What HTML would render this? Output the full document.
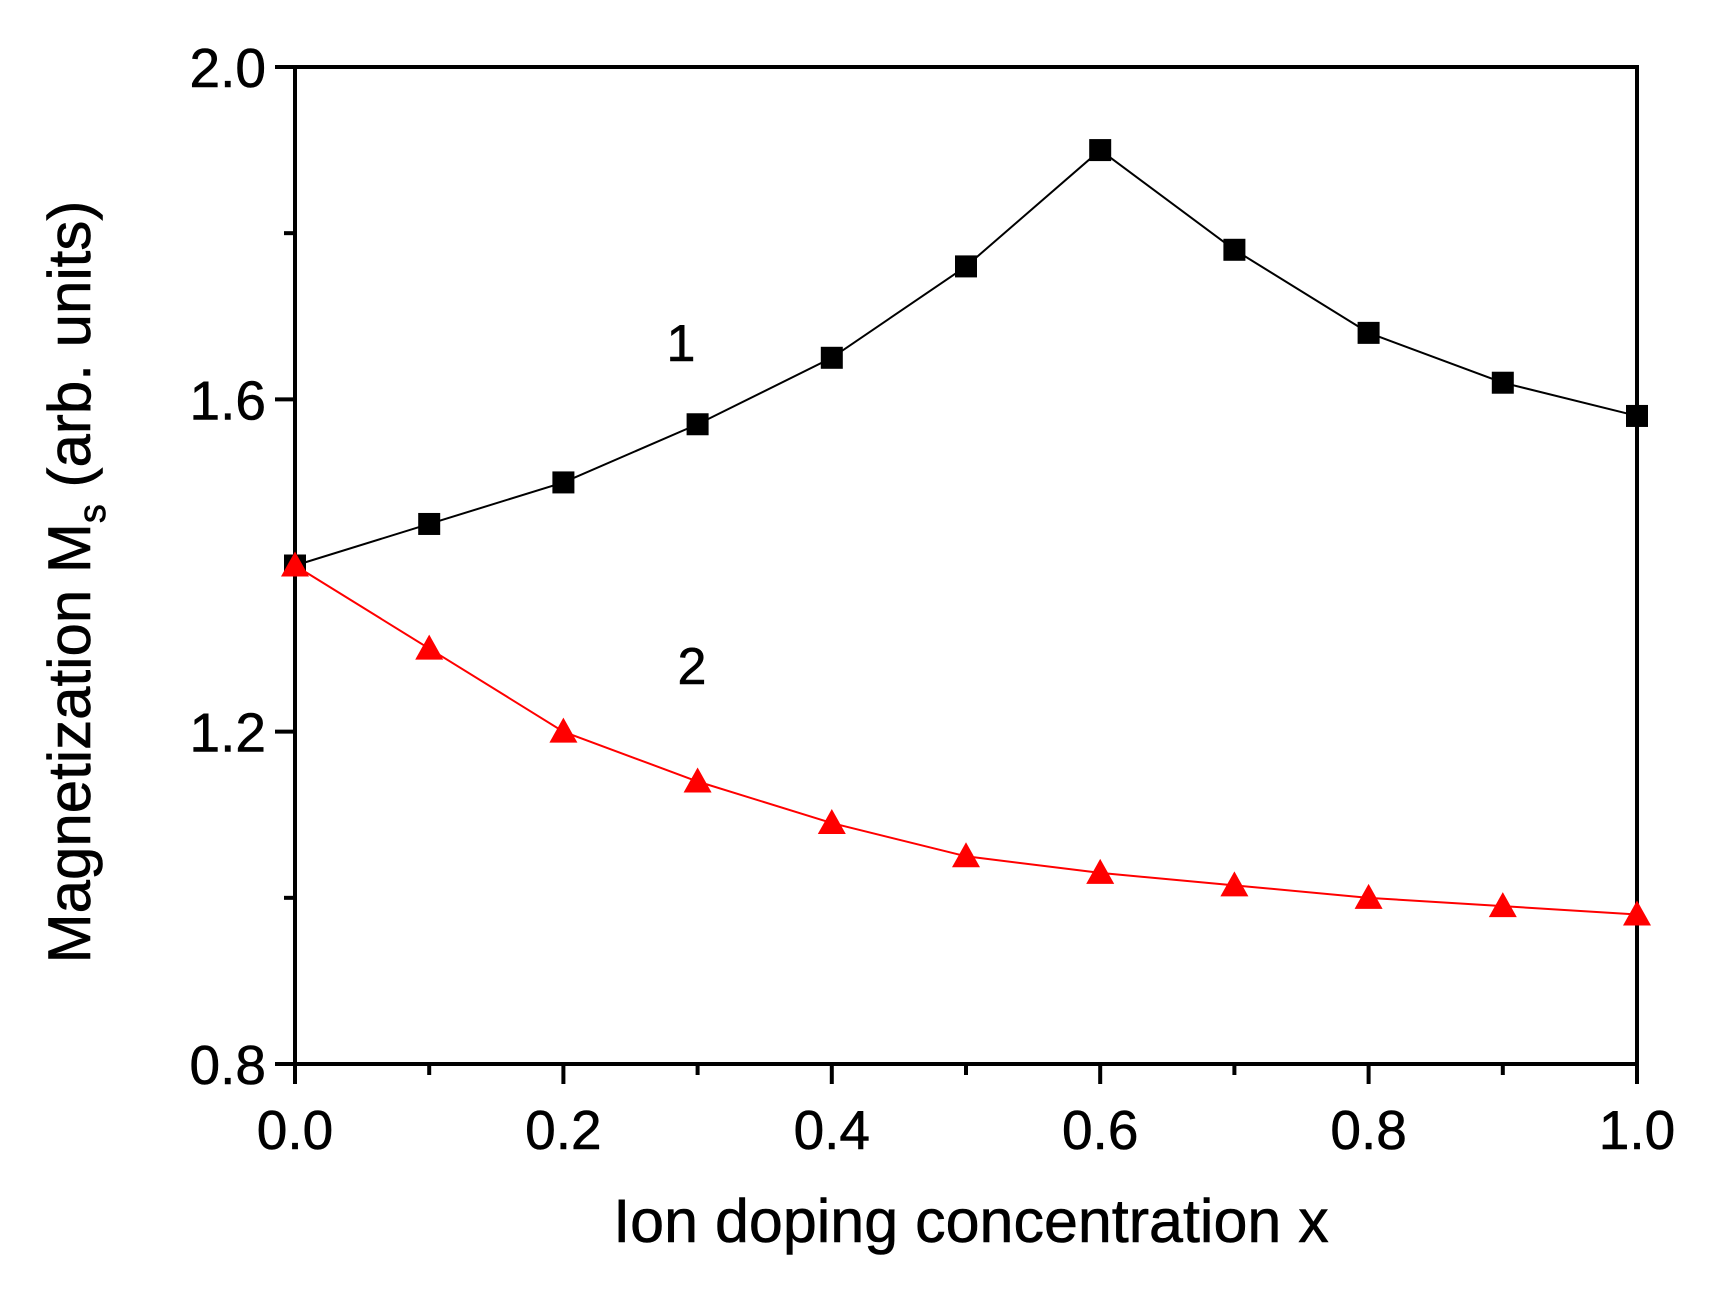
<!DOCTYPE html>
<html><head><meta charset="utf-8"><style>
html,body{margin:0;padding:0;background:#fff;}
svg{display:block;font-family:"Liberation Sans",Arial,sans-serif;}
text{stroke:#000;stroke-width:0.6;}
</style></head><body>
<svg id="chart" width="1722" height="1292" viewBox="0 0 1722 1292" xmlns="http://www.w3.org/2000/svg">
<g id="axes"></g>
<g id="series"></g>
<text x="681" y="361" font-size="52" text-anchor="middle">1</text>
<text x="692" y="684" font-size="52" text-anchor="middle">2</text>
<text x="971" y="1242" font-size="61" text-anchor="middle">Ion doping concentration x</text>
<text transform="translate(90,582) rotate(-90)" font-size="60" text-anchor="middle">Magnetization M<tspan font-size="38" dy="15">s</tspan><tspan dy="-15"> (arb. units)</tspan></text>
</svg>
<script>
const xValues = [0,0.1,0.2,0.3,0.4,0.5,0.6,0.7,0.8,0.9,1.0];
const series1 = [1.40,1.45,1.50,1.57,1.65,1.76,1.90,1.78,1.68,1.62,1.58];
const series2 = [1.40,1.30,1.20,1.14,1.09,1.05,1.03,1.015,1.00,0.99,0.98];
const xTicks = [0,0.2,0.4,0.6,0.8,1.0];
const xTickLabels = ["0.0","0.2","0.4","0.6","0.8","1.0"];
const yTicks = [0.8,1.2,1.6,2.0];
const yTickLabels = ["0.8","1.2","1.6","2.0"];
const xMinor = [0.1,0.3,0.5,0.7,0.9];
const yMinor = [1.0,1.4,1.8];

const X0=295,X1=1637,Y0=1064,Y1=67;
const xs=v=>X0+(v-0)/(1-0)*(X1-X0);
const ys=v=>Y0-(v-0.8)/(2.0-0.8)*(Y0-Y1);
const NS="http://www.w3.org/2000/svg";
function mk(tag,parent){const e=document.createElementNS(NS,tag);parent.appendChild(e);return e;}
const axes=document.getElementById('axes');
const frame=mk('rect',axes);


frame.setAttribute('x',X0);frame.setAttribute('y',Y1);frame.setAttribute('width',X1-X0);frame.setAttribute('height',Y0-Y1);
frame.setAttribute('fill','none');frame.setAttribute('stroke','#000');frame.setAttribute('stroke-width','4');
xTicks.forEach((v,i)=>{
  const t=mk('line',axes);
  
  
  t.setAttribute('x1',xs(v));t.setAttribute('x2',xs(v));t.setAttribute('y1',Y0);t.setAttribute('y2',Y0+20);
  t.setAttribute('stroke','#000');t.setAttribute('stroke-width','4');
  const l=mk('text',axes);
  
  
  l.setAttribute('x',xs(v));l.setAttribute('y',1149);l.setAttribute('font-size','55');l.setAttribute('text-anchor','middle');
  l.textContent=xTickLabels[i];
});
xMinor.forEach(v=>{
  const t=mk('line',axes);
  
  
  t.setAttribute('x1',xs(v));t.setAttribute('x2',xs(v));t.setAttribute('y1',Y0);t.setAttribute('y2',Y0+11);
  t.setAttribute('stroke','#000');t.setAttribute('stroke-width','4');
});
yTicks.forEach((v,i)=>{
  const t=mk('line',axes);
  
  
  t.setAttribute('x1',X0-20);t.setAttribute('x2',X0);t.setAttribute('y1',ys(v));t.setAttribute('y2',ys(v));
  t.setAttribute('stroke','#000');t.setAttribute('stroke-width','4');
  const l=mk('text',axes);
  
  
  l.setAttribute('x',266);l.setAttribute('y',ys(v)+20);l.setAttribute('font-size','55');l.setAttribute('text-anchor','end');
  l.textContent=yTickLabels[i];
});
yMinor.forEach(v=>{
  const t=mk('line',axes);
  
  
  t.setAttribute('x1',X0-11);t.setAttribute('x2',X0);t.setAttribute('y1',ys(v));t.setAttribute('y2',ys(v));
  t.setAttribute('stroke','#000');t.setAttribute('stroke-width','4');
});
const sg=document.getElementById('series');
function drawLine(vals,color,name){
  const p=mk('polyline',sg);
  
  
  p.setAttribute('points',vals.map((v,i)=>xs(xValues[i])+','+ys(v)).join(' '));
  p.setAttribute('fill','none');p.setAttribute('stroke',color);p.setAttribute('stroke-width','2');
}
drawLine(series1,'#000','series-1-line');
drawLine(series2,'#f00','series-2-line');
series1.forEach((v,i)=>{
  const r=mk('rect',sg);
  
  
  r.setAttribute('x',xs(xValues[i])-11);r.setAttribute('y',ys(v)-11);r.setAttribute('width',22);r.setAttribute('height',22);
  r.setAttribute('fill','#000');
});
series2.forEach((v,i)=>{
  const cx=xs(xValues[i]),cy=ys(v);
  const t=mk('polygon',sg);
  
  
  t.setAttribute('points',`${cx},${cy-14} ${cx-14},${cy+11} ${cx+14},${cy+11}`);
  t.setAttribute('fill','#f00');
});
</script>
</body></html>
